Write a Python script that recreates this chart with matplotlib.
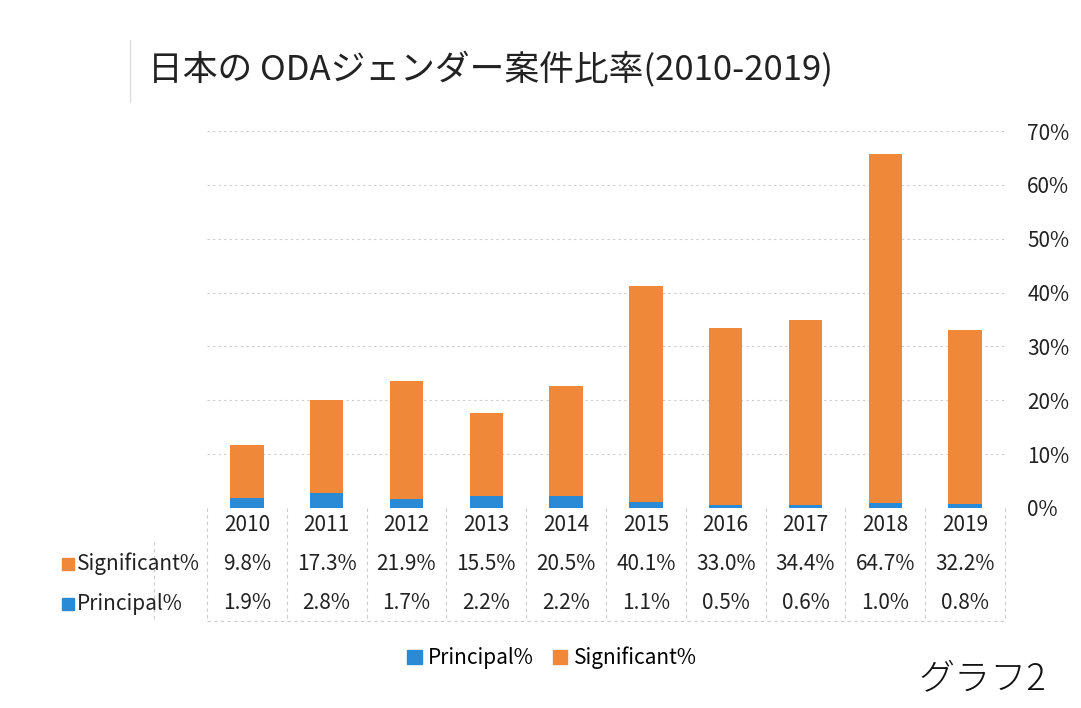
import numpy as np
import matplotlib.pyplot as plt
from matplotlib.patches import Rectangle

plt.rcParams['font.family'] = ['Noto Sans CJK JP', 'DejaVu Sans']

# データ
years = ['2010', '2011', '2012', '2013', '2014', '2015', '2016', '2017', '2018', '2019']
principal = [1.9, 2.8, 1.7, 2.2, 2.2, 1.1, 0.5, 0.6, 1.0, 0.8]
significant = [9.8, 17.3, 21.9, 15.5, 20.5, 40.1, 33.0, 34.4, 64.7, 32.2]
yticks = [0, 10, 20, 30, 40, 50, 60, 70]

c_blue = '#2B8AD6'
c_orange = '#F0883A'
c_grid = '#CCCCCC'
c_text = '#222222'
fs = 15

fig = plt.figure(figsize=(10.81, 7.08), dpi=100)
ax = fig.add_axes([207 / 1081, 1 - 508 / 708, 798 / 1081, 377 / 708])

x = np.arange(len(years))
ax.bar(x, principal, width=0.42, color=c_blue, zorder=3)
ax.bar(x, significant, width=0.42, bottom=principal, color=c_orange, zorder=3)

ax.set_xlim(-0.5, len(years) - 0.5)
ax.set_ylim(0, 70)
ax.set_yticks(yticks)
ax.set_yticklabels([f'{v}%' for v in yticks], fontsize=fs, color=c_text)
ax.yaxis.tick_right()
ax.tick_params(axis='y', length=0, pad=16)
ax.set_xticks([])
ax.grid(axis='y', color=c_grid, linestyle=(0, (2, 3)), linewidth=0.8, zorder=0)
for s in ax.spines.values():
    s.set_visible(False)

# データテーブル
tr = ax.get_xaxis_transform()
row_y = [-0.045, -0.148, -0.253]
for i, yr in enumerate(years):
    ax.text(i, row_y[0], yr, transform=tr, ha='center', va='center', fontsize=fs, color=c_text)
    ax.text(i, row_y[1], f'{significant[i]:.1f}%', transform=tr, ha='center', va='center',
            fontsize=fs, color=c_text)
    ax.text(i, row_y[2], f'{principal[i]:.1f}%', transform=tr, ha='center', va='center',
            fontsize=fs, color=c_text)

for i in range(len(years) + 1):
    ax.plot([i - 0.5, i - 0.5], [0, -0.3], transform=tr, color=c_grid, lw=0.8,
            linestyle=(0, (3, 3)), clip_on=False)
ax.plot([-0.5, len(years) - 0.5], [-0.3, -0.3], transform=tr, color=c_grid, lw=0.8,
        linestyle=(0, (3, 3)), clip_on=False)

# 行ラベル
for ypx, label, col in [(564, 'Significant%', c_orange), (604, 'Principal%', c_blue)]:
    fig.add_artist(Rectangle((62 / 1081, 1 - (ypx + 6) / 708), 12 / 1081, 12 / 708,
                             color=col, transform=fig.transFigure))
    fig.text(77 / 1081, 1 - ypx / 708, label, ha='left', va='center', fontsize=fs,
             color=c_text)
ax.plot([-0.5 - 0.66, -0.5 - 0.66], [-0.09, -0.3], transform=tr, color=c_grid, lw=0.8,
        linestyle=(0, (3, 3)), clip_on=False)

# タイトル
fig.text(148 / 1081, 1 - 70 / 708, '日本の ODAジェンダー案件比率(2010-2019)', fontsize=25,
         color=c_text, va='center', ha='left')
fig.add_artist(plt.Line2D([130 / 1081, 130 / 1081], [1 - 40 / 708, 1 - 102 / 708],
                          color='#DDDDDD', lw=1))

# 凡例
leg = fig.legend(handles=[Rectangle((0, 0), 1, 1, color=c_blue),
                          Rectangle((0, 0), 1, 1, color=c_orange)],
                 labels=['Principal%', 'Significant%'], loc='center',
                 bbox_to_anchor=(552 / 1081, 1 - 658 / 708), ncol=2, frameon=False,
                 fontsize=fs, handlelength=0.7, handleheight=0.7, handletextpad=0.3,
                 columnspacing=0.9)

# 手書きメモ
fig.text(918 / 1081, 1 - 680 / 708, 'グラフ2', fontsize=26, fontweight='light',
         color='#111111', va='center', ha='left')

fig.savefig('out.png', dpi=100, facecolor='white')
